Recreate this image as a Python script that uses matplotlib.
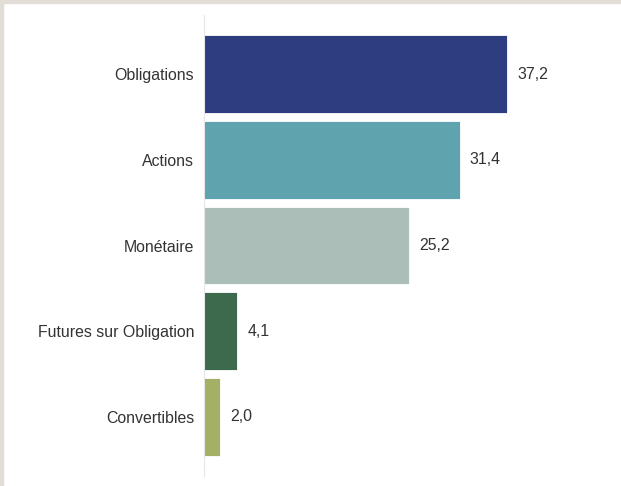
import matplotlib.pyplot as plt
from matplotlib.patches import Rectangle

categories = ["Obligations", "Actions", "Monétaire", "Futures sur Obligation", "Convertibles"]
values = [37.2, 31.4, 25.2, 4.1, 2.0]
labels = ["37,2", "31,4", "25,2", "4,1", "2,0"]
colors = ["#2e3d80", "#5ea3ae", "#abbfb8", "#3d6a4c", "#a3b065"]

plt.rcParams['font.family'] = ['Liberation Sans', 'DejaVu Sans']

W, H = 621, 486
fig = plt.figure(figsize=(W / 100, H / 100), dpi=100)
fig.patch.set_facecolor("white")

# thin beige frame on top and left
fig.patches.append(Rectangle((0, 1 - 3 / H), 1, 3 / H, transform=fig.transFigure,
                             color="#e2ddd7", zorder=0))
fig.patches.append(Rectangle((0, 0), 3 / W, 1, transform=fig.transFigure,
                             color="#e2ddd7", zorder=0))

ax = fig.add_axes([204 / W, 10 / H, 396 / W, 461 / H])
ypos = list(range(len(categories)))
ax.barh(ypos, values, height=0.91, color=colors, edgecolor="white", linewidth=0.6)
ax.set_ylim(len(categories) - 1 + 0.69, -0.69)
ax.set_xlim(0, 396 / 8.15)

for y, v, t in zip(ypos, values, labels):
    ax.text(v + 1.2, y, t, va="center", ha="left", fontsize=11.4, color="#333333")

ax.set_yticks(ypos)
ax.set_yticklabels(categories, fontsize=11.4, color="#333333")
ax.tick_params(axis="y", length=0, pad=7)
ax.set_xticks([])
for s in ["top", "right", "bottom"]:
    ax.spines[s].set_visible(False)
ax.spines["left"].set_color("#e6e6e6")
ax.spines["left"].set_linewidth(0.8)

fig.savefig("out.png", dpi=100)
